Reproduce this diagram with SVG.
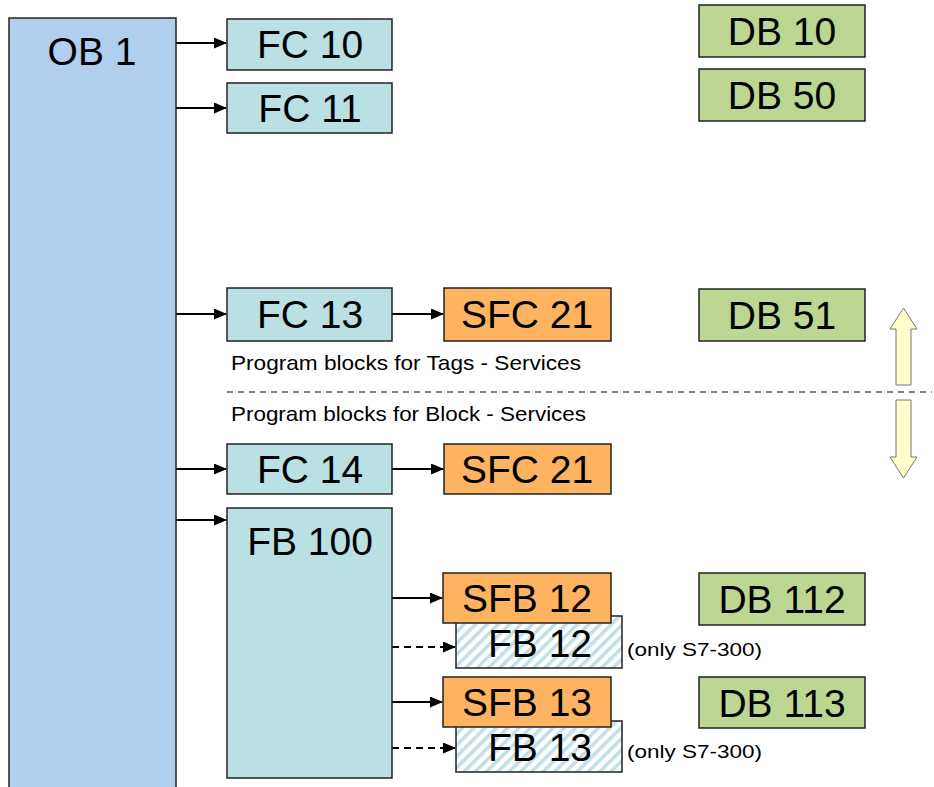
<svg xmlns="http://www.w3.org/2000/svg" width="934" height="787" viewBox="0 0 934 787">
<style>
  .box{stroke:#222;stroke-width:1.5}
  .ob{fill:#b0cfee}
  .fc{fill:#b9e0e3}
  .sfc{fill:#fdb35f}
  .db{fill:#bdd793}
  .hat{fill:url(#hatch)}
  .t{font-family:"Liberation Sans",Arial,sans-serif;font-size:39px;fill:#000;text-anchor:middle}
  .s{font-family:"Liberation Sans",Arial,sans-serif;font-size:21px;fill:#000}
  .n{font-family:"Liberation Sans",Arial,sans-serif;font-size:19px;fill:#000}
  .ln{stroke:#000;stroke-width:2;fill:none}
  .dash{stroke-dasharray:7,5}
  .ya{fill:#ffffcc;stroke:#777;stroke-width:1}
</style>
<defs>
  <marker id="ah" markerWidth="13" markerHeight="11" refX="12" refY="5.5" orient="auto" markerUnits="userSpaceOnUse">
    <path d="M0,0 L13,5.5 L0,11 z" fill="#000"/>
  </marker>
  <pattern id="hatch" patternUnits="userSpaceOnUse" width="8" height="8" patternTransform="rotate(45)">
    <rect width="8" height="8" fill="#ffffff"/>
    <rect x="0" y="0" width="3.5" height="8" fill="#bfe0e6"/>
  </pattern>
</defs>
<rect width="934" height="787" fill="#fff"/>

<g id="connectors">
  <line class="ln" x1="176" y1="43" x2="226" y2="43" marker-end="url(#ah)"/>
  <line class="ln" x1="176" y1="108" x2="226" y2="108" marker-end="url(#ah)"/>
  <line class="ln" x1="176" y1="314" x2="226" y2="314" marker-end="url(#ah)"/>
  <line class="ln" x1="392" y1="314" x2="443" y2="314" marker-end="url(#ah)"/>
  <line class="ln" x1="176" y1="469" x2="226" y2="469" marker-end="url(#ah)"/>
  <line class="ln" x1="392" y1="469" x2="443" y2="469" marker-end="url(#ah)"/>
  <line class="ln" x1="176" y1="520" x2="226" y2="520" marker-end="url(#ah)"/>
  <line class="ln" x1="392" y1="598" x2="442" y2="598" marker-end="url(#ah)"/>
  <line class="ln dash" x1="392" y1="647" x2="455" y2="647" marker-end="url(#ah)"/>
  <line class="ln" x1="392" y1="702" x2="442" y2="702" marker-end="url(#ah)"/>
  <line class="ln dash" x1="392" y1="748" x2="455" y2="748" marker-end="url(#ah)"/>
  <line x1="227" y1="392" x2="932" y2="392" stroke="#000" stroke-width="1.2" stroke-dasharray="6,5"/>
</g>

<g id="OB1"><rect class="box ob" x="9" y="18" width="167" height="780"/><text class="t" x="92" y="65">OB 1</text></g>
<g id="FC10"><rect class="box fc" x="227" y="19" width="165" height="51"/><text class="t" x="310" y="58">FC 10</text></g>
<g id="FC11"><rect class="box fc" x="227" y="83" width="165" height="50"/><text class="t" x="310" y="122">FC 11</text></g>
<g id="DB10"><rect class="box db" x="699" y="5" width="166" height="52"/><text class="t" x="782" y="45">DB 10</text></g>
<g id="DB50"><rect class="box db" x="699" y="69" width="166" height="52"/><text class="t" x="782" y="109">DB 50</text></g>
<g id="FC13"><rect class="box fc" x="227" y="288" width="165" height="53"/><text class="t" x="310" y="328">FC 13</text></g>
<g id="SFC21a"><rect class="box sfc" x="444" y="288" width="167" height="53"/><text class="t" x="527" y="328">SFC 21</text></g>
<g id="DB51"><rect class="box db" x="699" y="289" width="166" height="52"/><text class="t" x="782" y="329">DB 51</text></g>
<g id="label-tags"><text class="s" x="231" y="370" textLength="350" lengthAdjust="spacingAndGlyphs">Program blocks for Tags - Services</text></g>
<g id="label-block"><text class="s" x="231" y="421" textLength="355" lengthAdjust="spacingAndGlyphs">Program blocks for Block - Services</text></g>
<g id="arrow-up"><path class="ya" d="M896,385 L896,329 L890,329 L903.5,308 L917,329 L911,329 L911,385 z"/></g>
<g id="arrow-down"><path class="ya" d="M896,400 L896,457 L890,457 L903.5,478 L917,457 L911,457 L911,400 z"/></g>
<g id="FC14"><rect class="box fc" x="227" y="444" width="165" height="50"/><text class="t" x="310" y="483">FC 14</text></g>
<g id="SFC21b"><rect class="box sfc" x="444" y="444" width="167" height="50"/><text class="t" x="527" y="483">SFC 21</text></g>
<g id="FB100"><rect class="box fc" x="227" y="508" width="165" height="270"/><text class="t" x="310" y="555">FB 100</text></g>
<g id="FB12"><rect class="box hat" x="456" y="616" width="166" height="52"/><text class="t" x="540" y="657">FB 12</text></g>
<g id="SFB12"><rect class="box sfc" x="443" y="573" width="168" height="50"/><text class="t" x="527" y="612">SFB 12</text></g>
<g id="note12"><text class="n" x="627" y="656" textLength="135" lengthAdjust="spacingAndGlyphs">(only S7-300)</text></g>
<g id="DB112"><rect class="box db" x="699" y="573" width="166" height="52"/><text class="t" x="782" y="613">DB 112</text></g>
<g id="FB13"><rect class="box hat" x="456" y="721" width="166" height="51"/><text class="t" x="540" y="761">FB 13</text></g>
<g id="SFB13"><rect class="box sfc" x="443" y="677" width="168" height="50"/><text class="t" x="527" y="716">SFB 13</text></g>
<g id="note13"><text class="n" x="627" y="758" textLength="135" lengthAdjust="spacingAndGlyphs">(only S7-300)</text></g>
<g id="DB113"><rect class="box db" x="699" y="677" width="166" height="51"/><text class="t" x="782" y="717">DB 113</text></g>
</svg>
